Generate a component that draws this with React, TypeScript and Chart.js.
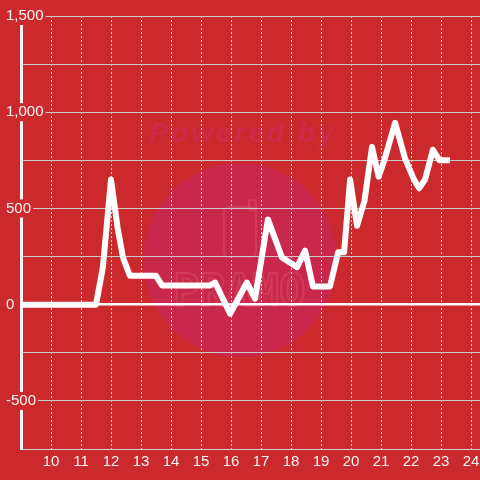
import React, { useEffect, useRef } from 'react';
import { Chart, registerables } from 'chart.js';

Chart.register(...registerables);

// ---- data ----
const hours = [8.5, 11.5, 11.73, 12.0, 12.22, 12.4, 12.63, 13.5, 13.7, 15.3, 15.47, 15.97, 16.53, 16.8, 17.23, 17.7, 18.0, 18.2, 18.47, 18.73, 19.3, 19.57, 19.77, 19.97, 20.2, 20.45, 20.7, 20.92, 21.1, 21.47, 21.8, 22.1, 22.27, 22.47, 22.73, 22.95, 23.3];
const readings = [0, 0, 195, 650, 400, 245, 150, 150, 100, 100, 115, -47, 115, 31, 443, 245, 215, 195, 281, 95, 95, 272, 272, 650, 410, 540, 820, 665, 745, 945, 760, 650, 605, 650, 805, 750, 750];
const xTickValues = [10, 11, 12, 13, 14, 15, 16, 17, 18, 19, 20, 21, 22, 23, 24];
const xRange = [9, 24.3];
const yRange = [-750, 1500];
const yGridStep = 250;
const yLabelStep = 500;

const BG = '#cc292e';
const FONT = { family: "'Liberation Sans', Arial, sans-serif", size: 15 };

const watermark = {
  id: 'watermark',
  beforeDraw(chart: any) {
    const { ctx, width, height } = chart;
    ctx.save();
    ctx.fillStyle = BG;
    ctx.fillRect(0, 0, width, height);
    // circle
    ctx.beginPath();
    ctx.arc(240, 260, 97, 0, Math.PI * 2);
    ctx.fillStyle = '#c9284a';
    ctx.fill();
    // "Powered by"
    ctx.fillStyle = '#cf2a4a';
    ctx.font = "bold italic 28px 'Liberation Sans', Arial, sans-serif";
    (ctx as any).letterSpacing = '3px';
    ctx.textAlign = 'center';
    ctx.textBaseline = 'alphabetic';
    ctx.fillText('Powered by', 243, 142);
    (ctx as any).letterSpacing = '0px';
    // logo outline
    ctx.strokeStyle = 'rgba(225,110,120,0.28)';
    ctx.lineWidth = 2;
    ctx.beginPath();
    (ctx as any).roundRect(224, 207, 32, 50, 5);
    ctx.stroke();
    ctx.beginPath();
    (ctx as any).roundRect(249, 200, 7, 10, 2);
    ctx.stroke();
    ctx.font = "bold 44px 'DejaVu Sans Mono', monospace";
    ctx.textAlign = 'left';
    ctx.lineWidth = 2;
    ctx.strokeText('PRAMO', 173, 306);
    ctx.restore();
  },
};

export default function App() {
  const ref = useRef<HTMLCanvasElement>(null);
  useEffect(() => {
    const chart = new Chart(ref.current as HTMLCanvasElement, {
      type: 'line',
      data: {
        datasets: [
          {
            data: hours.map((h, i) => ({ x: h, y: readings[i] })),
            borderColor: '#ffffff',
            borderWidth: 6,
            pointRadius: 0,
            tension: 0,
            borderJoinStyle: 'round',
            fill: false,
          },
        ],
      },
      options: {
        animation: false,
        responsive: false,
        maintainAspectRatio: false,
        plugins: { legend: { display: false }, tooltip: { enabled: false } },
        layout: { padding: { top: 16, left: 5, right: 0, bottom: 5 } },
        scales: {
          x: {
            type: 'linear',
            min: xRange[0],
            max: xRange[1],
            afterBuildTicks: (s: any) => {
              s.ticks = xTickValues.map((v) => ({ value: v }));
            },
            afterFit: (s: any) => {
              s.paddingLeft = 0;
              s.paddingRight = 0;
            },
            grid: { color: '#dedede', lineWidth: 1, drawTicks: false },
            border: { color: '#cfcfcf', width: 1, dash: [2, 2] },
            ticks: {
              color: '#f4f4f4',
              font: FONT,
              padding: 4,
              maxRotation: 0,
              autoSkip: false,
              callback: (v: any) => String(v),
            },
          },
          y: {
            type: 'linear',
            min: yRange[0],
            max: yRange[1],
            afterFit: (s: any) => {
              s.width = 16;
            },
            ticks: {
              stepSize: yGridStep,
              mirror: true,
              crossAlign: 'near',
              padding: -15,
              color: '#f4f4f4',
              font: FONT,
              showLabelBackdrop: true,
              backdropColor: BG,
              backdropPadding: { top: 0, bottom: 0, left: 0, right: 2 },
              callback: (v: any) =>
                Number(v) % yLabelStep === 0 ? Number(v).toLocaleString('en-US') : '',
            },
            grid: {
              color: (c: any) => (c.tick && c.tick.value === 0 ? '#ffffff' : '#c9c9c9'),
              lineWidth: (c: any) => (c.tick && c.tick.value === 0 ? 2.5 : 1),
              drawTicks: false,
            },
            border: { color: '#f2f2f2', width: 3 },
          },
        },
      },
      plugins: [watermark],
    } as any);
    return () => chart.destroy();
  }, []);
  return (
    <div style={{ position: 'absolute', left: 0, top: 0, width: 480, height: 480, background: BG }}>
      <canvas ref={ref} width={480} height={480} style={{ display: 'block' }} />
    </div>
  );
}
